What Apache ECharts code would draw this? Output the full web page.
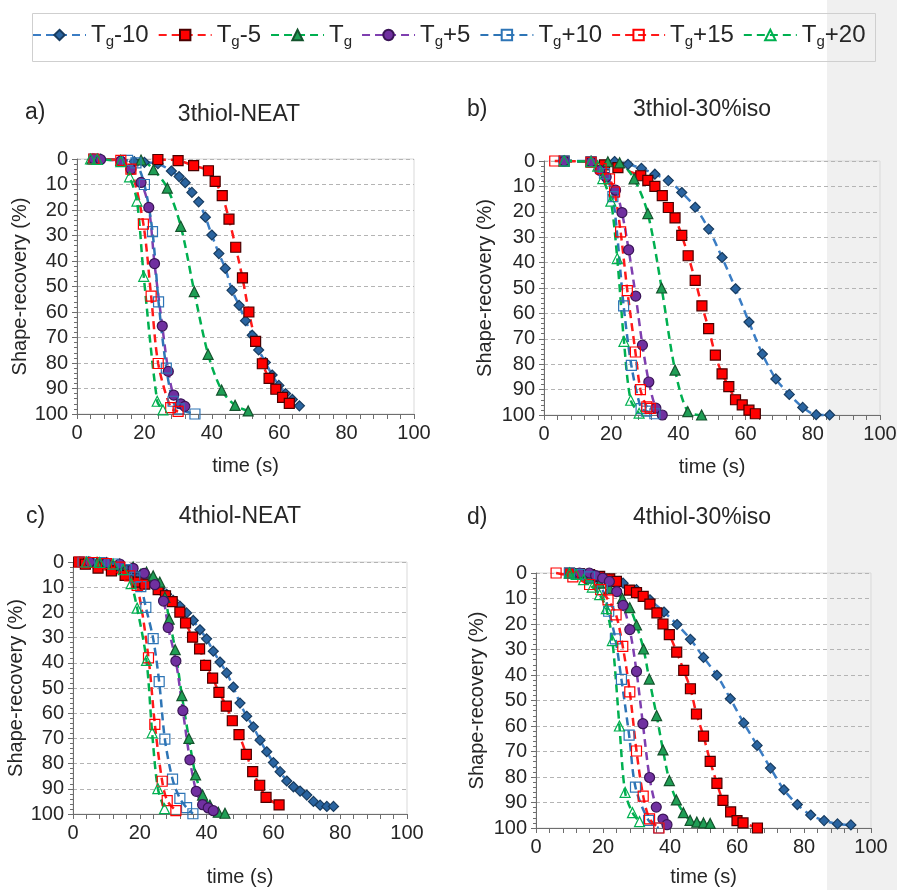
<!DOCTYPE html>
<html>
<head>
<meta charset="utf-8">
<script src="https://cdn.jsdelivr.net/npm/echarts@6/dist/echarts.min.js"></script>
<style>
html,body{margin:0;padding:0;background:#fff;}
#wrap{width:897px;height:890px;background:linear-gradient(to right,#ffffff 0px,#ffffff 827px,#f0f0f0 827px,#f0f0f0 897px);}
#chart{width:897px;height:890px;}
</style>
</head>
<body>
<div id="wrap"><div id="chart"></div></div>
<script>
// ---------- DATA ----------
const SERIES_NAMES = ['Tg-10', 'Tg-5', 'Tg', 'Tg+5', 'Tg+10', 'Tg+15', 'Tg+20'];
const PANEL_LETTERS = ['a)', 'b)', 'c)', 'd)'];
const PANEL_TITLES = ['3thiol-NEAT', '3thiol-30%iso', '4thiol-NEAT', '4thiol-30%iso'];
const X_TITLE = 'time (s)';
const Y_TITLE = 'Shape-recovery (%)';

// Panel a) 3thiol-NEAT  [time (s), shape-recovery (%)]
const A_M10 = [[5,0],[7,0],[13,0.5],[17,1],[20,1.3],[24,1.8],[28,4.7],[30.3,6.9],[32.1,9.3],[34.1,13.1],[36.1,16.8],[38.1,22.8],[40,29.8],[42.1,37.1],[44,42.9],[46,51.5],[48.1,57.4],[50,63.4],[52,69.1],[53.9,74.9],[55.9,79.8],[57.9,84.7],[59.9,88.8],[61.9,92],[63.9,94.3],[66,96.8]];
const A_M5 = [[24,0.2],[30,0.6],[34.6,2.6],[39,4.6],[41,8.8],[43.1,14.4],[45.1,23.6],[47.1,34.6],[49.1,46.6],[51,60],[53,71.5],[55,80.3],[57,86],[59,90.3],[61,93.5],[63,95.8]];
const A_0 = [[4.5,0],[6,0],[13,0.5],[19,0.4],[22.7,4.2],[26.8,11.4],[30.8,26.4],[34.8,52],[38.9,76.6],[42.9,90.6],[46.9,96.6],[50.8,98.8]];
const A_P5 = [[5,0],[7,0.2],[13,0.8],[16,4],[19,9.2],[21.3,19],[23,41],[25.3,65.5],[27.1,83.3],[28.7,92.6],[30.8,96],[32,97]];
const A_P10 = [[5,0],[15,0.5],[17.5,1.5],[20,10],[22.4,28.5],[24.2,56],[26.5,82],[28.5,95],[30.3,98],[35,100]];
const A_P15 = [[5,0],[13,0.5],[16,4],[19.7,25.5],[22,53.8],[24.1,80.2],[27.8,97.5],[30,99]];
const A_P20 = [[4,0],[6,0.2],[13,1],[15.6,7],[17.8,16.5],[19.8,46],[23.8,95],[25.5,98.4]];

// Panel b) 3thiol-30%iso
const B_M10 = [[6,0],[14,0],[21,0.2],[25,1.3],[29,2.9],[33,5.2],[37,7.7],[41,12.4],[45,18.2],[49,26.8],[53,38],[57,50.3],[61,63.4],[65,76],[69,85.8],[73,91.9],[77,97],[81,99.9],[85,100]];
const B_M5 = [[6,0],[14,0.3],[18,1.5],[22,2.6],[28.8,5.8],[30.9,7.6],[33,10],[35.2,13.6],[37,18.3],[39,22.4],[41,29.3],[42.9,37.3],[45,47],[47,57],[49,66],[51,76.4],[53,83.8],[55,88.8],[57,94],[59,96],[61,98.1],[62.9,99.5]];
const B_0 = [[6,0],[14,0.2],[19,0.3],[22.5,0.7],[26.8,7],[30.9,20.7],[35,50],[39,82.3],[42.8,98.7],[46.9,100]];
const B_P5 = [[6,0],[14,0.3],[16.6,3.7],[18.5,6.3],[21.3,11.5],[23.2,20.3],[25.2,35],[27.3,53.2],[29.3,72.5],[31.2,87],[33.3,97.3],[35.2,100]];
const B_P10 = [[6,0],[14,0.3],[18,5],[20.5,14],[23.7,57],[26,80.5],[28.9,97.5],[30.5,98.5],[33,99.5]];
const B_P15 = [[3.2,0],[14,0.5],[17,3],[19.5,7],[21,12.2],[22.8,27.9],[24.8,51],[27.2,75.2],[28.7,90],[30.6,96.8],[31.6,97.4]];
const B_P20 = [[6,0],[14,0.3],[16,2],[17.5,6.9],[19.9,15.8],[21.8,38.4],[23.8,71],[25.8,94.2],[28.3,99.3]];

// Panel c) 4thiol-NEAT
const C_M10 = [[2,0],[4,0.2],[6,0.4],[8,0.7],[10,1],[12,1.5],[14,2.2],[16,3],[18,4],[20,5.3],[22,6.8],[24,8.5],[26,10.5],[28,12.8],[30,15.2],[32,17.5],[34,20.2],[36,23.2],[38,26.9],[40,30.5],[42,35.4],[44,39.7],[46,44],[48,49.6],[50,56],[52,61.2],[54,65.4],[56,70.7],[58,75.3],[60,79.6],[62,83.2],[64,86.9],[66,89.2],[68,90.9],[70,92.5],[72,95],[74,96.5],[76,97],[78,97]];
const C_M5 = [[1.7,0],[3.7,0.9],[7.5,2.4],[11.5,3.5],[15.6,5.3],[19.5,8],[21.5,8.8],[25.5,11],[27.7,13.4],[29.7,15.7],[32,19.9],[33.7,24.2],[35.8,29.8],[37.9,34.5],[39.7,41],[41.8,46.1],[43.7,51.7],[45.9,57.2],[47.7,63],[49.7,68.5],[51.9,76.3],[53.8,83.2],[55.9,88.6],[57.8,93.4],[61.7,96.4]];
const C_0 = [[4.7,0],[7.2,0.1],[10,0.3],[14,0.8],[18,2],[22,4],[24,5.5],[26,8],[27.5,14],[28.8,22.7],[30.6,34.8],[32.6,53],[34.7,70],[36.7,84.5],[38.8,92.5],[41,96.5],[43.5,99.3],[45.5,99.7]];
const C_P5 = [[5,0],[10,0.3],[14,0.8],[18,2.5],[21.3,4.5],[24.5,9],[27.1,15.5],[28.5,26],[30.8,39.3],[32.9,59],[35,78.5],[36.9,91],[38.8,96.3],[40.5,97.6],[42,98.7]];
const C_P10 = [[3,0],[8,0.2],[12,0.8],[16,3],[18.5,6],[20.3,9.8],[21.8,18],[24,30.4],[25.8,47.5],[27.5,70.3],[29.8,86.2],[32,93.8],[34,97.5],[35.9,99.9]];
const C_P15 = [[2,0],[6,0.2],[10,0.6],[14,2],[17,5.5],[19.2,9.3],[22.6,38],[24.5,64.4],[26.7,87],[28.2,94.7],[30.8,98.7]];
const C_P20 = [[4,0],[8,0.2],[12,0.8],[15,3],[17.4,8.6],[19.2,18.3],[22,39],[23.7,67.8],[25.4,89.9],[27.4,97.9]];

// Panel d) 4thiol-30%iso
const D_M10 = [[10,0],[13,0.3],[16,0.8],[19,1.5],[22,2.5],[26,4],[30,6.5],[34,10.5],[38.2,15.3],[42.1,20.2],[46.1,26],[50,33.1],[54,40.1],[58,49.3],[62,58.8],[66,67.6],[70,76.5],[74,85],[78,90.8],[82,94.9],[86,97.1],[90,98.4],[94,98.8]];
const D_M5 = [[10,0],[13,0.2],[16,0.6],[19,1.3],[22,2.3],[24,3.3],[27.9,6.7],[30,7.7],[32,9.2],[34,12.2],[36.1,15.6],[37.9,20],[39.8,24.2],[42,31],[44.1,38.2],[46.1,45.4],[47.9,55.3],[50,64],[52,73.9],[54,82.5],[55.8,89.2],[58.1,93.7],[60,97.1],[61.8,98],[66.1,100]];
const D_0 = [[10,0],[13,0.5],[16,2],[19,4],[22,6],[25.8,10],[28,13.6],[30,20.4],[32.1,29.8],[33.8,41.6],[36,55.9],[37.9,69.4],[39.8,81.4],[41.9,89],[44,94],[46,97],[48,97.7],[50,98],[52,98.2]];
const D_P5 = [[13,0],[15.9,0],[17.8,1],[19.9,2],[21.9,3.3],[24.1,7.3],[26,12.7],[28,22.2],[30,38.6],[31.9,59.1],[33.9,80.2],[35.9,91.8],[37.9,96.5],[39.1,98.7]];
const D_P10 = [[10,0],[13,0.5],[16,1.5],[19.8,6.5],[21.7,15],[23.7,25.8],[25.5,41.7],[27.8,63.6],[29.7,84],[33.6,97],[36.6,100]];
const D_P15 = [[6,0],[11,1.5],[16,4.5],[19.3,6.5],[21.5,10.5],[23.9,16.4],[25.9,28.8],[28,46.6],[30,69.8],[32,87.5],[33.9,96.4],[36.7,100]];
const D_P20 = [[10,0],[12,0.5],[14.2,2.6],[16.8,5.5],[19,8.5],[21,14],[22.8,26.5],[24.9,60],[26.6,86],[28.8,94],[30.9,97.5]];

const PANEL_DATA = [
  [A_M10, A_M5, A_0, A_P5, A_P10, A_P15, A_P20],
  [B_M10, B_M5, B_0, B_P5, B_P10, B_P15, B_P20],
  [C_M10, C_M5, C_0, C_P5, C_P10, C_P15, C_P20],
  [D_M10, D_M5, D_0, D_P5, D_P10, D_P15, D_P20]
];

// ---------- STYLE / LAYOUT ----------
const FONT = "'Liberation Sans', Arial, sans-serif";
const TXT = '#262626';
const STYLES = [
  {symbol: 'diamond', size: 10, fill: '#2a64a0', border: '#183c60', line: '#3b7dc4'},
  {symbol: 'rect', size: 10, fill: '#ff0000', border: '#4a0000', line: '#ff1a1a'},
  {symbol: 'triangle', size: 10, fill: '#1f9e55', border: '#14532d', line: '#00b050'},
  {symbol: 'circle', size: 10, fill: '#7030a0', border: '#3a1556', line: '#7f3fb0'},
  {symbol: 'rect', size: 10, fill: 'rgba(255,255,255,0)', border: '#2e75b6', line: '#2e75b6'},
  {symbol: 'rect', size: 10, fill: 'rgba(255,255,255,0)', border: '#ff0000', line: '#ff1a1a'},
  {symbol: 'triangle', size: 10, fill: 'rgba(255,255,255,0)', border: '#00b050', line: '#00b050'}
];
const GRIDS = [
  {left: 77, top: 159, width: 337, height: 255},
  {left: 544, top: 161, width: 336, height: 254},
  {left: 73, top: 562, width: 334, height: 252},
  {left: 536, top: 573, width: 335, height: 255}
];
const X_NAME_GAP = [42, 42, 53, 39];
const Y_NAME_GAP = [45, 49, 41, 49];
const LETTER_POS = [[25, 113], [467, 110], [26, 517], [467, 518]];
const TITLE_POS = [[239, 115], [702, 110], [240, 517], [702, 518]];

const chart = echarts.init(document.getElementById('chart'), null, {renderer: 'canvas'});

const grid = GRIDS.map(g => Object.assign({
  show: true, borderColor: '#d9d9d9', borderWidth: 1, backgroundColor: 'transparent',
  containLabel: false, outerBoundsMode: 'none'
}, g));

const xAxis = GRIDS.map((g, i) => ({
  type: 'value', gridIndex: i, min: 0, max: 100, interval: 20,
  name: X_TITLE, nameLocation: 'middle', nameGap: X_NAME_GAP[i],
  nameTextStyle: {fontFamily: FONT, fontSize: 20, color: TXT},
  axisLine: {show: true, onZero: false, lineStyle: {color: '#6e6e6e', width: 1}},
  axisTick: {show: true, inside: false, length: 5, lineStyle: {color: '#6e6e6e'}},
  minorTick: {show: true, splitNumber: 5, length: 5, lineStyle: {color: '#6e6e6e'}},
  axisLabel: {fontFamily: FONT, fontSize: 20, color: TXT, margin: 9},
  splitLine: {show: false}
}));

const yAxis = GRIDS.map((g, i) => ({
  type: 'value', gridIndex: i, min: 0, max: 100, interval: 10, inverse: true,
  name: Y_TITLE, nameLocation: 'middle', nameGap: Y_NAME_GAP[i],
  nameTextStyle: {fontFamily: FONT, fontSize: 20, color: TXT},
  axisLine: {show: true, onZero: false, lineStyle: {color: '#6e6e6e', width: 1}},
  axisTick: {show: true, inside: false, length: 5, lineStyle: {color: '#6e6e6e'}},
  minorTick: {show: true, splitNumber: 5, length: 3, lineStyle: {color: '#6e6e6e'}},
  axisLabel: {fontFamily: FONT, fontSize: 20, color: TXT, margin: 9},
  splitLine: {show: true, lineStyle: {color: '#b4b4b4', type: [4, 3], width: 1}}
}));

const series = [];
PANEL_DATA.forEach((panel, p) => {
  panel.forEach((data, k) => {
    const st = STYLES[k];
    series.push({
      type: 'line', name: SERIES_NAMES[k], xAxisIndex: p, yAxisIndex: p,
      data: data, smooth: 0.3, symbol: st.symbol, symbolSize: st.size,
      showSymbol: true, clip: false,
      lineStyle: {color: st.line, width: 2.5, type: [8, 5]},
      itemStyle: {color: st.fill, borderColor: st.border, borderWidth: 1.2},
      emphasis: {disabled: true},
      animation: false
    });
  });
});

const graphicEls = [
  {type: 'rect', shape: {x: 32.5, y: 13.5, width: 843, height: 48}, style: {fill: 'none', stroke: '#cfcfcf', lineWidth: 1}, silent: true}
];
PANEL_LETTERS.forEach((t, i) => {
  graphicEls.push({type: 'text', x: LETTER_POS[i][0], y: LETTER_POS[i][1],
    style: {text: t, fill: TXT, font: '23px ' + FONT, textAlign: 'left', textVerticalAlign: 'middle'}, silent: true});
  graphicEls.push({type: 'text', x: TITLE_POS[i][0], y: TITLE_POS[i][1],
    style: {text: PANEL_TITLES[i], fill: TXT, font: '23px ' + FONT, textAlign: 'center', textVerticalAlign: 'middle'}, silent: true});
});

chart.setOption({
  backgroundColor: 'transparent',
  animation: false,
  grid: grid,
  xAxis: xAxis,
  yAxis: yAxis,
  legend: {
    data: SERIES_NAMES, left: 32, top: 23, padding: 0, itemGap: 9,
    itemWidth: 53, itemHeight: 13,
    formatter: name => '{a|T}{b|g}{a|' + name.slice(2) + '}',
    textStyle: {
      color: TXT, fontFamily: FONT,
      rich: {
        a: {fontSize: 24, lineHeight: 28, fontFamily: FONT, color: TXT},
        b: {fontSize: 15, lineHeight: 12, verticalAlign: 'bottom', fontFamily: FONT, color: TXT}
      }
    },
    selectedMode: false
  },
  graphic: graphicEls,
  series: series
});
</script>
</body>
</html>
